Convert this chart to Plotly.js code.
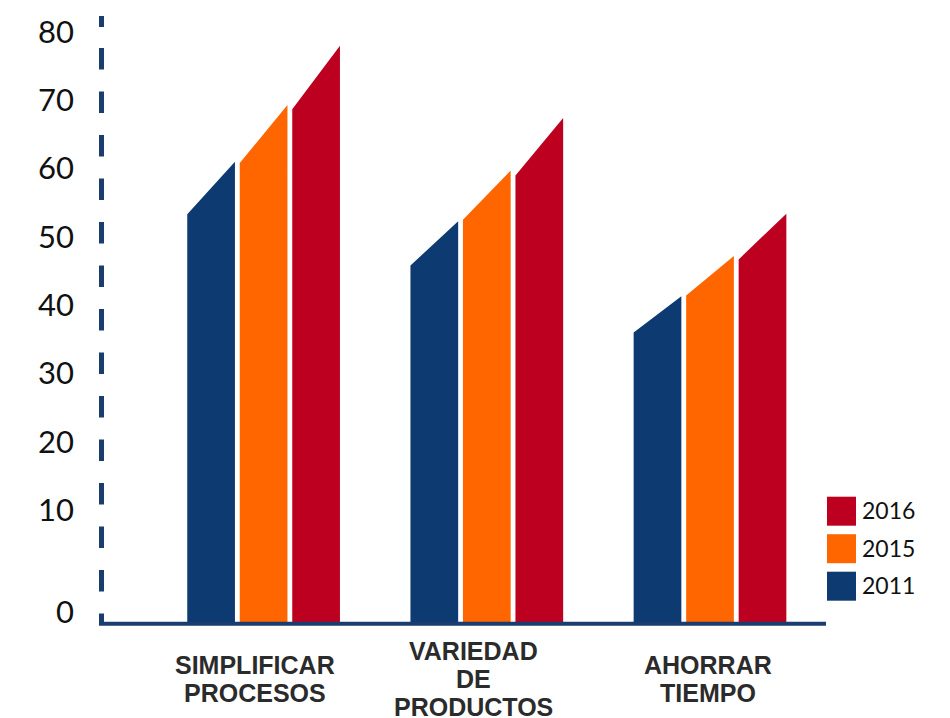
<!DOCTYPE html>
<html>
<head>
<meta charset="utf-8">
<script src="https://cdn.plot.ly/plotly-3.0.1.min.js"></script>
<style>
  html, body { margin: 0; padding: 0; background: #ffffff; }
  #chart { width: 950px; height: 718px; }
</style>
</head>
<body>
<div id="chart"></div>
<script>
// ---------------- data ----------------
const categories = ["SIMPLIFICAR<br>PROCESOS", "VARIEDAD<br>DE<br>PRODUCTOS", "AHORRAR<br>TIEMPO"];
const seriesNames = ["2011", "2015", "2016"];
// value at the right (high) edge of each slanted bar top
const top2011 = [61.0, 52.3, 41.3];
const top2015 = [69.3, 59.7, 47.2];
const top2016 = [78.0, 67.4, 53.4];
// value at the left (low) edge of each slanted bar top
const start2011 = [53.3, 45.8, 36.0];
const start2015 = [60.8, 52.5, 41.4];
const start2016 = [68.7, 59.0, 46.7];
const yTickLabels = ["0", "10", "20", "30", "40", "50", "60", "70", "80"];
const yTickValues = [-4.93, 10, 20, 30, 40, 50, 60, 70, 80];

// ---------------- styling / layout constants ----------------
const colors = ["#0d3b71", "#ff6600", "#be0020"];
const axisColor = "#1b3c6e";
const W = 950, H = 718;
const ML = 101, MR = 124, MT = 5, MB = 94;
const plotW = W - ML - MR, plotH = H - MT - MB;
const pxPerUnitY = 6.829;           // pixels per value unit
const yAtZeroPx = 578.3;            // pixel row of value 0 on the linear scale
const yLow = (yAtZeroPx - (H - MB)) / pxPerUnitY;
const yHigh = (yAtZeroPx - MT) / pxPerUnitY;
const groupPx = 223.2;              // pixels between group centres
const firstGroupPx = 263.6;
const xLow = -(firstGroupPx - ML) / groupPx;
const xHigh = xLow + plotW / groupPx;
const barW = 47.7 / groupPx;
const barPitch = 52.5 / groupPx;
const labelShiftPx = [-8.6, -13.8, -2.1];   // category label nudges

const starts = [start2011, start2015, start2016];
const tops = [top2011, top2015, top2016];

function pxX(px) { return (px - ML) / plotW; }
function pxY(py) { return (H - MB - py) / plotH; }

// ---------------- traces: slanted bars as filled polygons ----------------
const traces = seriesNames.map((name, k) => {
  const xs = [], ys = [];
  categories.forEach((c, g) => {
    const xc = g + (k - 1) * barPitch;
    const xl = xc - barW / 2, xr = xc + barW / 2;
    xs.push(xl, xl, xr, xr, xl, null);
    ys.push(yLow, starts[k][g], tops[k][g], yLow, yLow, null);
  });
  return {
    type: "scatter", mode: "lines", name: name,
    x: xs, y: ys, fill: "toself", fillcolor: colors[k],
    line: { width: 0, color: colors[k] }, hoverinfo: "skip", showlegend: false
  };
});

// ---------------- shapes: axes + legend swatches ----------------
const shapes = [];
// dashed vertical axis
shapes.push({ type: "line", xref: "paper", yref: "paper",
  x0: pxX(101.5), x1: pxX(101.5), y0: pxY(16), y1: pxY(27),
  line: { color: axisColor, width: 5 } });
shapes.push({ type: "line", xref: "paper", yref: "paper",
  x0: pxX(101.5), x1: pxX(101.5), y0: pxY(48), y1: pxY(623),
  line: { color: axisColor, width: 5, dash: "21.5px,22px" } });
// bottom axis
shapes.push({ type: "line", xref: "paper", yref: "paper",
  x0: pxX(99), x1: pxX(826), y0: pxY(623.7), y1: pxY(623.7),
  line: { color: axisColor, width: 4 } });

const annotations = [];
// legend (top to bottom: newest first)
const legendTopPx = 496.7, legendStepPx = 37.5, swatch = 29;
for (let i = 0; i < seriesNames.length; i++) {
  const k = seriesNames.length - 1 - i;
  const top = legendTopPx + i * legendStepPx;
  shapes.push({ type: "rect", xref: "paper", yref: "paper",
    x0: pxX(827), x1: pxX(827 + swatch), y0: pxY(top), y1: pxY(top + swatch),
    fillcolor: colors[k], line: { width: 0 } });
  annotations.push({ xref: "paper", yref: "paper", x: pxX(860), y: pxY(top + swatch / 2 - 1),
    xanchor: "left", yanchor: "middle", showarrow: false, text: seriesNames[k],
    font: { family: "Lato, 'DejaVu Sans', sans-serif", size: 23, color: "#111111" } });
}

// category labels, one annotation per line
const lineStep = 28.0, blockCentrePx = 679;
categories.forEach((c, g) => {
  const lines = c.split("<br>");
  lines.forEach((t, i) => {
    const cy = blockCentrePx + (i - (lines.length - 1) / 2) * lineStep;
    annotations.push({ xref: "x", yref: "paper", x: g, xshift: labelShiftPx[g], y: pxY(cy),
      xanchor: "center", yanchor: "middle", showarrow: false, borderpad: 0,
      text: "<b>" + t + "</b>",
      font: { family: "'Liberation Sans', Arial, sans-serif", size: 25, color: "#2b2b2b" } });
  });
});

const layout = {
  width: W, height: H,
  margin: { l: ML, r: MR, t: MT, b: MB, pad: 0 },
  paper_bgcolor: "#ffffff", plot_bgcolor: "#ffffff",
  showlegend: false,
  xaxis: { range: [xLow, xHigh], showgrid: false, zeroline: false, showline: false,
    showticklabels: false, ticks: "", fixedrange: true },
  yaxis: { range: [yLow, yHigh], showgrid: false, zeroline: false, showline: false,
    tickmode: "array", tickvals: yTickValues, ticktext: yTickLabels, ticks: "",
    ticklabelstandoff: 26,
    tickfont: { family: "Lato, 'DejaVu Sans', sans-serif", size: 31, color: "#111111" },
    fixedrange: true },
  shapes: shapes,
  annotations: annotations
};

Plotly.newPlot("chart", traces, layout, { displayModeBar: false, staticPlot: true });
</script>
</body>
</html>
